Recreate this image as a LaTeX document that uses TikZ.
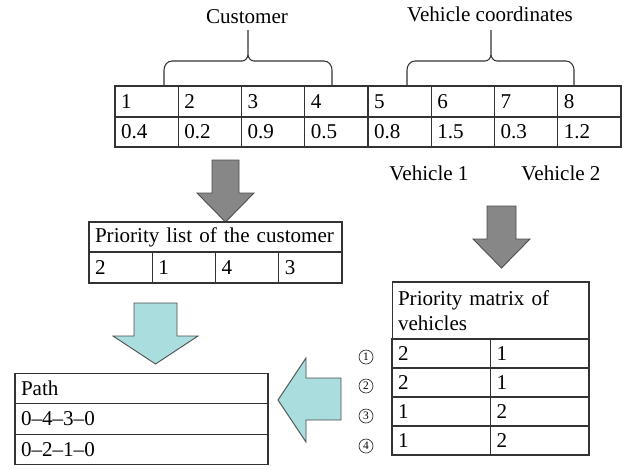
\documentclass[tikz,border=0pt]{standalone}
\usepackage{fontspec}
\setmainfont{Liberation Serif}
\usetikzlibrary{arrows.meta,positioning,calc}
\definecolor{darkfill}{RGB}{135,135,135}
\definecolor{lightfill}{RGB}{170,221,221}
\begin{document}
\begin{tikzpicture}[x=0.02cm,y=-0.02cm,font=\fontsize{12}{14.4}\selectfont]
\tikzstyle{c}=[draw=black!80,line width=0.6pt,inner xsep=0.12cm,inner ysep=0pt,align=left,text width=1.025cm,minimum height=0.61cm]
\tikzstyle{wide}=[c,text width=4.82cm]
\tikzstyle{blk}=[draw=black!70,line width=0.5pt]
\tikzstyle{num}=[draw=black!80,circle,line width=0.4pt,inner sep=0pt,minimum size=0.28cm,font=\fontsize{6.5}{6.5}\selectfont]
\useasboundingbox (0,0) rectangle (628,468);
% chromosome
\foreach \i/\v in {1/0.4,2/0.2,3/0.9,4/0.5,5/0.8,6/1.5,7/0.3,8/1.2} {
  \node[c,minimum height=0.62cm] (k\i) at ({115+63.25*\i-31.625},101.5) {\i};
  \node[c,minimum height=0.6cm] (v\i) at ({115+63.25*\i-31.625},132) {\v};
}
\node (cus) at (247,17) {Customer};
\node (veh) at (490,14) {Vehicle coordinates};
\foreach \l/\m/\r in {164/248/332,407/491/574}
  \draw[line width=0.6pt,black!80] (\l,86) -- (\l,70) to[out=90,in=180] ({\l+8},61) -- ({\m-6},61) to[out=0,in=-90] (\m,54) -- (\m,30) (\m,54) to[out=-90,in=180] ({\m+6},61) -- ({\r-8},61) to[out=0,in=90] (\r,70) -- (\r,86);
\node (car1) at (429,173) {Vehicle 1};
\node (car2) at (561,173) {Vehicle 2};
% block arrows
\foreach \x/\t/\s/\h/\w/\p/\f in {225.5/160/13.5/193/28.5/222/darkfill,501.5/206/14.5/239/28.5/268/darkfill,155.5/303/21.5/336/42.5/364/lightfill}
  \draw[blk,fill=\f] ({\x-\s},\t) -- ({\x+\s},\t) -- ({\x+\s},\h) -- ({\x+\w},\h) -- (\x,\p) -- ({\x-\w},\h) -- ({\x-\s},\h) -- cycle;
\draw[blk,fill=lightfill] (341,378) -- (306,378) -- (306,358) -- (278,400) -- (306,442) -- (306,420) -- (341,420) -- cycle;
% priority list
\node[wide,minimum height=0.6cm] (plist) at (215.5,237) {Priority list of the customer};
\foreach \i/\v in {1/2,2/1,3/4,4/3} \node[c,minimum height=0.62cm] (p\i) at ({89+63.25*\i-31.625},267.5) {\v};
% priority matrix
\node[c,text width=3.70cm,minimum height=1.14cm] (pmat) at (490.5,310.5) {Priority matrix of\\vehicles};
\foreach \i/\y/\a/\b in {1/353.5/2/1,2/382.5/2/1,3/411.5/1/2,4/440.5/1/2} {
  \node[c,text width=1.73cm,minimum height=0.58cm] (ma\i) at (441.25,\y) {\a};
  \node[c,text width=1.73cm,minimum height=0.58cm] (mb\i) at (539.75,\y) {\b};
}
\foreach \i/\y in {1/357,2/386,3/416,4/446} \node[num] (n\i) at (366,\y) {\i};
% path
\foreach \i/\y/\t in {0/388.5/Path,1/419/0--4--3--0,2/449.5/0--2--1--0} \node[wide] (path\i) at (141.5,\y) {\t};
\end{tikzpicture}
\end{document}
